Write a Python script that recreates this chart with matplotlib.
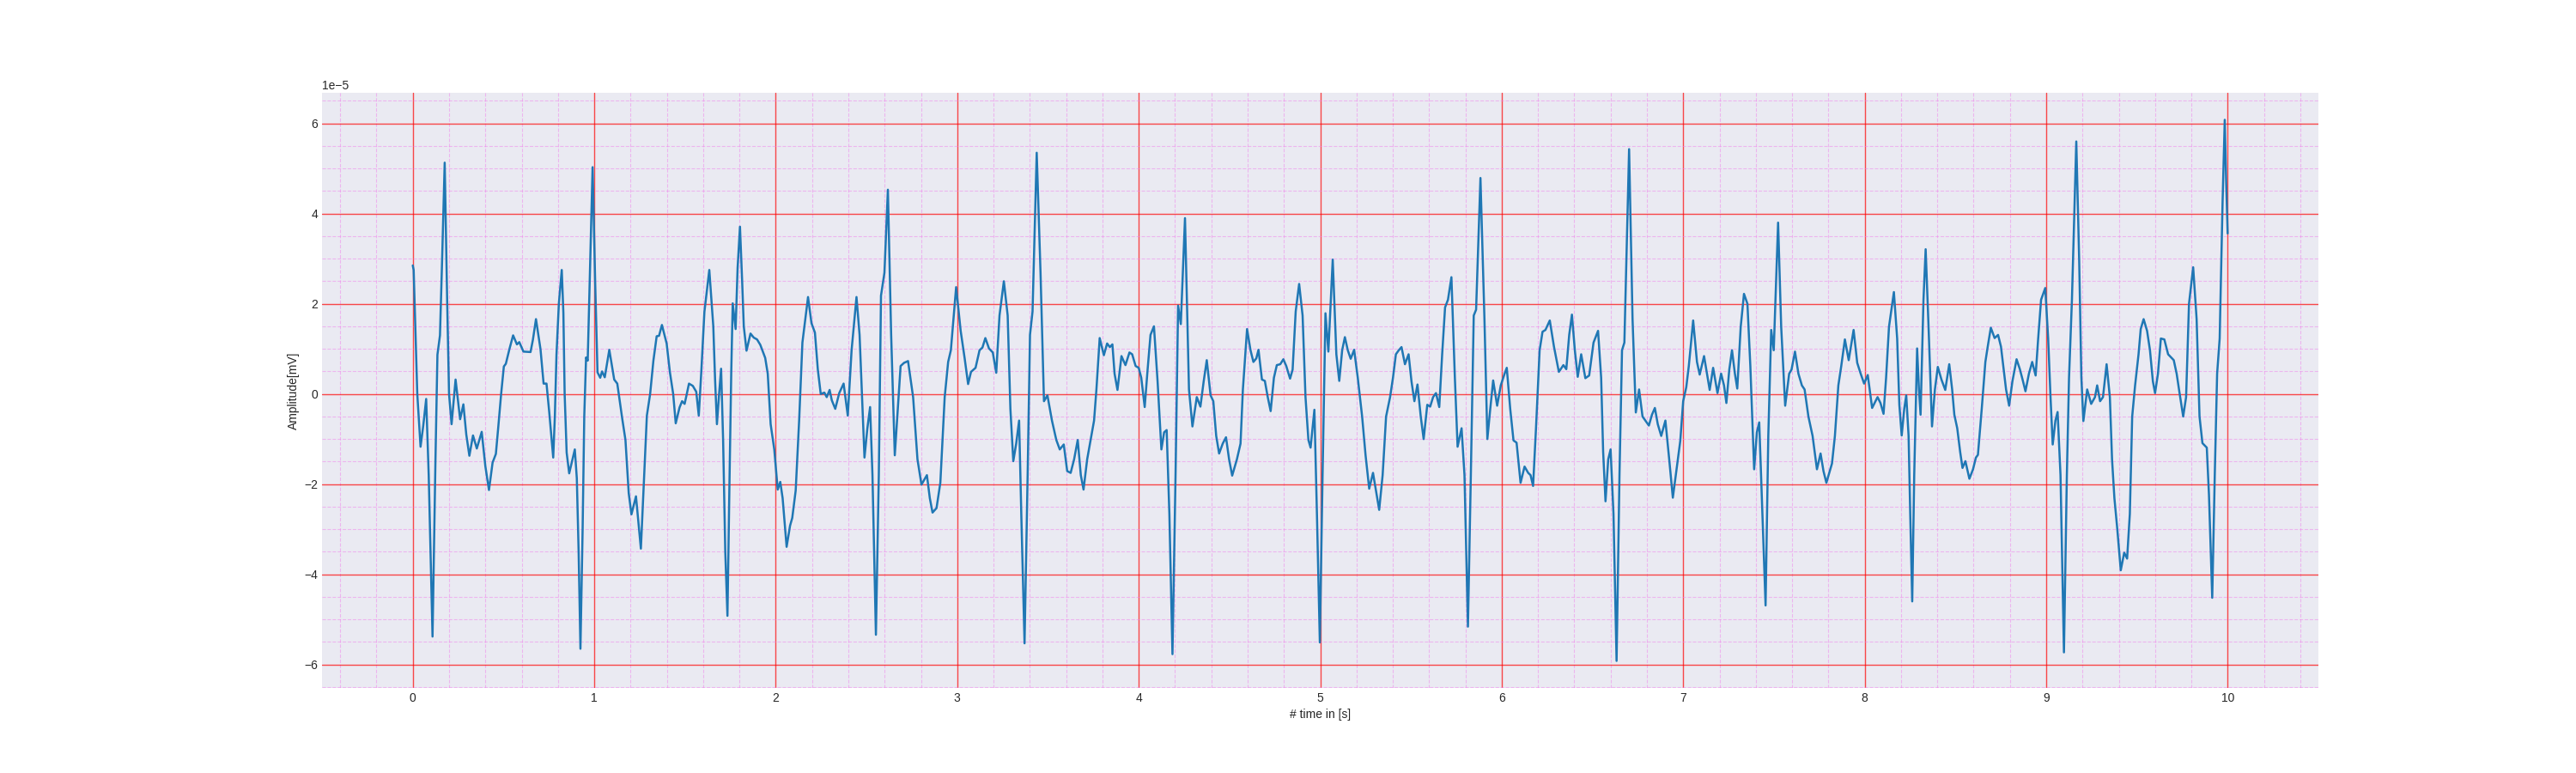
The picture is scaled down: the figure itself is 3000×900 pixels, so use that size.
import matplotlib
matplotlib.use("Agg")
import matplotlib.pyplot as plt
from matplotlib.ticker import AutoMinorLocator, MultipleLocator

# ── Data (amplitude in units of 1e-5 mV) ────────────────────────────────────
TIME = [
    0.000, 0.005, 0.025, 0.043, 0.058, 0.074, 0.088, 0.109, 0.125, 0.136,
    0.150, 0.162, 0.176, 0.190, 0.200, 0.214, 0.236, 0.261, 0.279, 0.295,
    0.312, 0.332, 0.353, 0.380, 0.400, 0.420, 0.440, 0.458, 0.472, 0.487,
    0.502, 0.513, 0.533, 0.553, 0.574, 0.587, 0.610, 0.649, 0.662, 0.679,
    0.704, 0.721, 0.737, 0.752, 0.774, 0.783, 0.792, 0.805, 0.821, 0.830,
    0.837, 0.848, 0.862, 0.893, 0.904, 0.914, 0.924, 0.936, 0.945, 0.955,
    0.964, 0.975, 0.991, 1.005, 1.018, 1.033, 1.043, 1.058, 1.083, 1.110,
    1.127, 1.154, 1.172, 1.190, 1.205, 1.230, 1.257, 1.275, 1.290, 1.308,
    1.326, 1.344, 1.357, 1.373, 1.399, 1.417, 1.435, 1.449, 1.470, 1.484,
    1.498, 1.510, 1.522, 1.543, 1.562, 1.576, 1.590, 1.607, 1.634, 1.656,
    1.666, 1.676, 1.688, 1.699, 1.710, 1.722, 1.734, 1.745, 1.755, 1.763,
    1.779, 1.790, 1.803, 1.815, 1.824, 1.839, 1.861, 1.879, 1.897, 1.915,
    1.942, 1.956, 1.972, 1.992, 2.011, 2.025, 2.038, 2.060, 2.079, 2.091,
    2.110, 2.129, 2.147, 2.178, 2.197, 2.216, 2.232, 2.248, 2.268, 2.281,
    2.297, 2.309, 2.328, 2.350, 2.374, 2.397, 2.418, 2.445, 2.462, 2.489,
    2.505, 2.520, 2.533, 2.552, 2.568, 2.580, 2.599, 2.618, 2.636, 2.656,
    2.670, 2.688, 2.707, 2.729, 2.757, 2.781, 2.803, 2.833, 2.849, 2.864,
    2.886, 2.907, 2.931, 2.950, 2.965, 2.994, 3.019, 3.041, 3.060, 3.076,
    3.101, 3.123, 3.139, 3.155, 3.175, 3.196, 3.215, 3.233, 3.257, 3.278,
    3.293, 3.309, 3.325, 3.341, 3.353, 3.371, 3.388, 3.401, 3.415, 3.438,
    3.459, 3.478, 3.497, 3.522, 3.546, 3.565, 3.587, 3.606, 3.625, 3.644,
    3.664, 3.681, 3.696, 3.716, 3.735, 3.754, 3.767, 3.785, 3.808, 3.826,
    3.841, 3.855, 3.867, 3.883, 3.905, 3.927, 3.949, 3.964, 3.983, 4.000,
    4.014, 4.033, 4.049, 4.065, 4.084, 4.104, 4.125, 4.140, 4.154, 4.169,
    4.186, 4.203, 4.217, 4.232, 4.255, 4.277, 4.296, 4.320, 4.340, 4.358,
    4.375, 4.396, 4.411, 4.427, 4.443, 4.463, 4.481, 4.498, 4.515, 4.541,
    4.561, 4.574, 4.597, 4.616, 4.632, 4.648, 4.660, 4.679, 4.695, 4.711,
    4.727, 4.745, 4.761, 4.780, 4.797, 4.813, 4.834, 4.848, 4.865, 4.884,
    4.903, 4.919, 4.935, 4.947, 4.968, 4.982, 4.998, 5.013, 5.029, 5.045,
    5.069, 5.089, 5.105, 5.121, 5.136, 5.152, 5.168, 5.187, 5.207, 5.231,
    5.250, 5.270, 5.291, 5.307, 5.325, 5.344, 5.363, 5.385, 5.401, 5.417,
    5.433, 5.448, 5.467, 5.487, 5.503, 5.519, 5.536, 5.554, 5.570, 5.590,
    5.606, 5.622, 5.638, 5.656, 5.672, 5.688, 5.704, 5.723, 5.742, 5.757,
    5.779, 5.795, 5.814, 5.830, 5.846, 5.859, 5.883, 5.905, 5.921, 5.937,
    5.953, 5.975, 5.995, 6.016, 6.028, 6.047, 6.065, 6.082, 6.104, 6.126,
    6.146, 6.159, 6.173, 6.189, 6.209, 6.225, 6.241, 6.265, 6.288, 6.315,
    6.340, 6.356, 6.372, 6.387, 6.403, 6.419, 6.438, 6.461, 6.482, 6.506,
    6.531, 6.548, 6.559, 6.572, 6.587, 6.600, 6.616, 6.633, 6.649, 6.663,
    6.676, 6.702, 6.721, 6.739, 6.757, 6.776, 6.792, 6.811, 6.828, 6.844,
    6.860, 6.879, 6.902, 6.923, 6.943, 6.965, 6.984, 7.000, 7.017, 7.031,
    7.055, 7.076, 7.091, 7.115, 7.131, 7.146, 7.165, 7.189, 7.209, 7.225,
    7.238, 7.254, 7.269, 7.285, 7.298, 7.317, 7.335, 7.354, 7.370, 7.391,
    7.406, 7.419, 7.433, 7.454, 7.469, 7.485, 7.499, 7.523, 7.540, 7.562,
    7.584, 7.597, 7.616, 7.635, 7.654, 7.669, 7.690, 7.713, 7.737, 7.757,
    7.773, 7.789, 7.820, 7.836, 7.855, 7.871, 7.891, 7.912, 7.939, 7.959,
    7.978, 7.997, 8.017, 8.041, 8.071, 8.087, 8.104, 8.118, 8.134, 8.161,
    8.179, 8.191, 8.204, 8.218, 8.229, 8.242, 8.251, 8.262, 8.273, 8.289,
    8.299, 8.308, 8.324, 8.336, 8.352, 8.371, 8.387, 8.403, 8.423, 8.444,
    8.466, 8.482, 8.494, 8.510, 8.526, 8.539, 8.555, 8.577, 8.597, 8.613,
    8.624, 8.645, 8.665, 8.678, 8.695, 8.716, 8.735, 8.751, 8.766, 8.779,
    8.796, 8.814, 8.837, 8.855, 8.870, 8.886, 8.905, 8.923, 8.942, 8.956,
    8.972, 8.995, 9.011, 9.024, 9.036, 9.051, 9.063, 9.079, 9.098, 9.114,
    9.126, 9.142, 9.166, 9.182, 9.194, 9.205, 9.226, 9.248, 9.269, 9.281,
    9.297, 9.313, 9.333, 9.351, 9.363, 9.376, 9.392, 9.411, 9.430, 9.446,
    9.461, 9.474, 9.490, 9.509, 9.521, 9.537, 9.556, 9.572, 9.588, 9.600,
    9.616, 9.632, 9.651, 9.672, 9.703, 9.719, 9.735, 9.755, 9.771, 9.787,
    9.810, 9.829, 9.845, 9.861, 9.885, 9.897, 9.915, 9.929, 9.942, 9.956,
    9.972, 9.984, 9.992, 10.000,
]

AMP_E5 = [
    2.85, 2.75, 0.00, -1.17, -0.70, -0.11, -1.80, -5.38, -1.50, 0.87,
    1.30, 3.00, 5.13, 2.00, 0.00, -0.67, 0.32, -0.56, -0.23, -0.90,
    -1.37, -0.92, -1.21, -0.84, -1.60, -2.13, -1.52, -1.33, -0.70, 0.00,
    0.61, 0.67, 1.00, 1.30, 1.10, 1.15, 0.94, 0.93, 1.20, 1.66,
    0.99, 0.23, 0.23, -0.40, -1.41, -0.50, 0.87, 2.00, 2.75, 1.80,
    0.00, -1.30, -1.76, -1.23, -1.87, -3.50, -5.65, -3.00, -0.50, 0.81,
    0.74, 2.50, 5.03, 2.50, 0.48, 0.36, 0.50, 0.37, 0.98, 0.32,
    0.23, -0.54, -1.02, -2.20, -2.67, -2.27, -3.43, -1.80, -0.48, 0.00,
    0.74, 1.28, 1.29, 1.53, 1.12, 0.48, 0.00, -0.65, -0.30, -0.16,
    -0.22, 0.00, 0.23, 0.18, 0.05, -0.48, 0.50, 1.82, 2.75, 1.50,
    0.30, -0.67, 0.00, 0.56, -1.00, -3.50, -4.92, -2.00, 0.50, 2.01,
    1.44, 2.80, 3.71, 2.50, 1.50, 0.96, 1.34, 1.25, 1.21, 1.09,
    0.80, 0.45, -0.67, -1.23, -2.12, -1.95, -2.31, -3.39, -2.92, -2.75,
    -2.14, -0.59, 1.14, 2.15, 1.57, 1.36, 0.54, 0.00, 0.03, -0.07,
    0.09, -0.14, -0.33, 0.02, 0.23, -0.48, 0.97, 2.15, 1.31, -1.41,
    -0.76, -0.29, -1.80, -5.34, -1.80, 2.18, 2.69, 4.53, 1.31, -1.36,
    -0.50, 0.62, 0.69, 0.73, -0.07, -1.45, -2.01, -1.80, -2.31, -2.63,
    -2.53, -1.97, -0.07, 0.71, 0.97, 2.37, 1.40, 0.79, 0.22, 0.49,
    0.58, 0.97, 1.03, 1.24, 1.01, 0.92, 0.47, 1.74, 2.50, 1.74,
    -0.33, -1.49, -1.10, -0.59, -2.66, -5.53, -1.80, 1.31, 1.83, 5.35,
    2.69, -0.16, -0.03, -0.59, -1.02, -1.23, -1.12, -1.71, -1.75, -1.45,
    -1.02, -1.80, -2.12, -1.45, -1.02, -0.59, 0.10, 1.24, 0.86, 1.12,
    1.04, 1.10, 0.45, 0.09, 0.84, 0.64, 0.92, 0.88, 0.62, 0.58,
    0.36, -0.29, 0.54, 1.31, 1.50, 0.28, -1.23, -0.85, -0.80, -2.66,
    -5.77, -1.80, 1.96, 1.55, 3.90, 0.10, -0.72, -0.07, -0.28, 0.28,
    0.75, -0.03, -0.16, -0.93, -1.32, -1.10, -0.96, -1.45, -1.81, -1.45,
    -1.10, 0.10, 1.44, 0.97, 0.71, 0.79, 0.98, 0.32, 0.29, -0.07,
    -0.38, 0.36, 0.64, 0.66, 0.77, 0.62, 0.34, 0.54, 1.83, 2.44,
    1.74, -0.07, -1.02, -1.19, -0.35, -2.66, -5.51, -1.80, 1.79, 0.94,
    2.98, 0.88, 0.29, 0.97, 1.26, 0.97, 0.78, 0.98, 0.36, -0.50,
    -1.36, -2.10, -1.75, -2.14, -2.57, -1.80, -0.50, -0.07, 0.36, 0.88,
    0.97, 1.04, 0.66, 0.88, 0.28, -0.16, 0.21, -0.50, -1.00, -0.24,
    -0.28, -0.07, 0.02, -0.29, 0.88, 1.92, 2.09, 2.59, 0.36, -1.17,
    -0.76, -1.80, -5.16, -1.80, 1.74, 1.87, 4.79, 1.66, -1.00, -0.33,
    0.30, -0.26, 0.19, 0.45, 0.58, -0.33, -1.03, -1.08, -1.97, -1.61,
    -1.75, -1.80, -2.04, -0.76, 0.97, 1.38, 1.42, 1.63, 1.05, 0.49,
    0.64, 0.55, 1.31, 1.76, 0.97, 0.38, 0.88, 0.35, 0.41, 1.14,
    1.40, 0.36, -1.28, -2.38, -1.45, -1.23, -2.66, -5.92, -1.80, 0.97,
    1.14, 5.43, 1.66, -0.41, 0.10, -0.50, -0.59, -0.70, -0.46, -0.31,
    -0.67, -0.93, -0.59, -1.45, -2.30, -1.62, -1.04, -0.16, 0.15, 0.62,
    1.63, 0.71, 0.43, 0.84, 0.45, 0.09, 0.58, 0.02, 0.45, 0.19,
    -0.20, 0.54, 0.97, 0.45, 0.12, 1.49, 2.22, 2.00, 0.62, -1.67,
    -0.85, -0.63, -2.23, -4.69, -0.93, 1.42, 0.97, 3.80, 1.49, -0.26,
    0.45, 0.54, 0.94, 0.45, 0.19, 0.10, -0.50, -0.93, -1.67, -1.32,
    -1.71, -1.97, -1.54, -0.93, 0.19, 0.62, 1.21, 0.75, 1.42, 0.69,
    0.45, 0.23, 0.42, -0.31, -0.07, -0.20, -0.44, 0.36, 1.49, 2.26,
    1.23, -0.24, -0.92, -0.33, -0.03, -0.93, -2.66, -4.60, -1.80, 1.01,
    0.10, -0.46, 2.09, 3.21, 1.49, -0.72, 0.10, 0.60, 0.32, 0.09,
    0.66, 0.10, -0.46, -0.76, -1.28, -1.64, -1.49, -1.88, -1.67, -1.41,
    -1.35, -0.33, 0.71, 1.05, 1.47, 1.24, 1.31, 1.05, 0.54, 0.10,
    -0.26, 0.28, 0.77, 0.55, 0.32, 0.06, 0.45, 0.71, 0.41, 1.23,
    2.09, 2.35, 1.23, -0.07, -1.12, -0.59, -0.40, -1.80, -5.73, -1.80,
    0.36, 2.09, 5.60, 2.95, 0.36, -0.60, 0.10, -0.22, -0.07, 0.19,
    -0.16, -0.07, 0.66, -0.07, -1.45, -2.31, -3.00, -3.91, -3.52, -3.65,
    -2.66, -0.50, 0.19, 0.88, 1.44, 1.66, 1.40, 0.97, 0.28, 0.02,
    0.45, 1.23, 1.21, 0.88, 0.75, 0.45, 0.02, -0.50, -0.07, 2.00,
    2.81, 1.66, -0.50, -1.09, -1.19, -2.23, -4.52, -1.80, 0.45, 1.23,
    4.25, 6.08, 4.68, 3.56,
]

AMPLITUDE = [v * 1e-5 for v in AMP_E5]

# ── Style ───────────────────────────────────────────────────────────────────
plt.style.use("seaborn-v0_8-darkgrid")
plt.rcParams["font.family"] = ["Liberation Sans", "DejaVu Sans"]

# ── Figure ──────────────────────────────────────────────────────────────────
fig, ax = plt.subplots(figsize=(30, 9), dpi=100)

ax.plot(TIME, AMPLITUDE, color="#1f77b4", lw=1.8, solid_joinstyle="round")

# 1 s major ticks, 0.2 s minor; 2e-5 major, 0.5e-5 minor on y
ax.xaxis.set_major_locator(MultipleLocator(1))
ax.xaxis.set_minor_locator(AutoMinorLocator(5))
ax.yaxis.set_minor_locator(AutoMinorLocator(4))
ax.grid(which="major", color="red", alpha=0.7, linewidth=1.0)
ax.grid(which="minor", color="violet", alpha=0.5, linestyle="--", linewidth=0.8)

ax.set_xlabel("# time in [s]")
ax.set_ylabel("Amplitude[mV]")

fig.savefig("out.png", dpi=100)
